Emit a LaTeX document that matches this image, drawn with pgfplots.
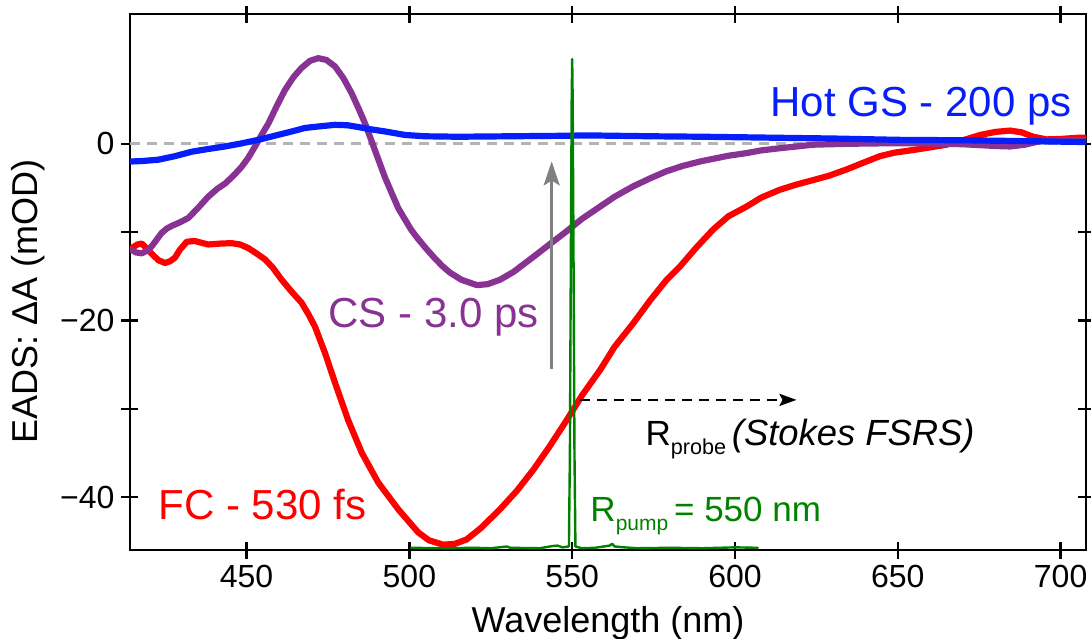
\documentclass[border=0pt]{standalone}
\usepackage{fontspec}
\setmainfont{Liberation Sans}
\usepackage{pgfplots}
\pgfplotsset{compat=1.18}
\usetikzlibrary{arrows.meta}

\definecolor{fcred}{RGB}{255,0,0}
\definecolor{cspurple}{RGB}{136,50,148}
\definecolor{gsblue}{RGB}{5,30,250}
\definecolor{pumpgreen}{RGB}{0,130,0}
\definecolor{zerogray}{RGB}{180,180,180}
\definecolor{arrowgray}{RGB}{128,128,128}

\begin{document}
\begin{tikzpicture}
\begin{axis}[
  scale only axis,
  width=478pt, height=268pt,
  xmin=414.2, xmax=707.8, ymin=-46, ymax=14.7,
  axis line style={line width=1.3pt},
  every tick/.style={black, line width=1.2pt},
  major tick length=8.5pt,
  tick align=center,
  xtick={450,500,550,600,650,700},
  xticklabels={450,500,550,600,650,700},
  ytick={-40,-30,-20,-10,0},
  yticklabels={−40,,−20,,0},
  tick label style={font=\fontsize{16}{19}\selectfont},
  xlabel={Wavelength (nm)},
  ylabel={EADS: ΔA (mOD)},
  label style={font=\fontsize{18}{21}\selectfont},
  xlabel style={at={(axis description cs:0.5,-0.105)}, anchor=north, inner sep=0pt},
  ylabel style={at={(axis description cs:-0.1067,0.463)}, anchor=center, inner sep=0pt},
  every axis plot/.append style={line join=round, line cap=round},
]

% zero reference
\addplot[zerogray, line width=1.5pt, dash pattern=on 5pt off 3.5pt, line cap=butt]
  coordinates {(414.2,0) (707.8,0)};

% FC - 530 fs
\addplot[fcred, line width=3.1pt] coordinates {
(414.7,-11.8) (416.5,-11.4) (417.8,-11.3) (419.5,-11.9) (421,-12.5) (423,-13.2)
(425,-13.5) (426.5,-13.3) (428,-12.9) (429.5,-12.0) (431.6,-11.1) (434,-11.0)
(438.2,-11.4) (442,-11.3) (445.4,-11.25) (448,-11.4) (450.5,-11.8) (453,-12.4)
(455.7,-13.1) (458,-14.0) (460.8,-15.4) (463.5,-16.6) (466.9,-18.0) (469,-19.3)
(471,-20.7) (474.1,-23.7) (477.2,-27.1) (481.2,-31.3) (485.4,-35.0) (490.5,-38.4)
(496.6,-41.4) (502.7,-44.0) (506,-44.9) (510.4,-45.4) (514,-45.3) (517.6,-44.8)
(522,-43.5) (527.8,-41.4) (533,-39.3) (538.1,-36.9) (543,-34.3) (548.3,-31.3)
(553,-28.5) (558.6,-25.6) (563,-23.0) (568.8,-20.3) (574,-17.7) (579,-15.4)
(583.1,-13.9) (588,-11.8) (593.3,-9.7) (598,-8.2) (603.6,-7.1) (608,-6.1)
(613.8,-5.2) (619,-4.6) (624.1,-4.1) (629,-3.6) (634.3,-2.9) (639,-2.2)
(644.5,-1.4) (649,-1.0) (654.8,-0.7) (660,-0.4) (665,-0.1) (670,0.4)
(675.3,1.0) (680,1.35) (684.5,1.5) (688,1.3) (691.6,0.8) (695.7,0.5)
(700,0.55) (706,0.7) (708,0.7)
};

% CS - 3.0 ps
\addplot[cspurple, line width=3.1pt] coordinates {
(414.7,-12.0) (416,-12.3) (417.8,-12.4) (419.5,-12.1) (420.9,-11.6) (422.5,-10.8)
(423.9,-10.1) (425.5,-9.6) (427,-9.3) (429.5,-8.9) (432.1,-8.4) (435,-7.3)
(438.2,-6.0) (441,-5.1) (443.4,-4.5) (446,-3.6) (448.5,-2.6) (450.5,-1.6)
(452.6,-0.3) (454.6,1.0) (456.7,2.3) (459.3,4.3) (461.8,6.1) (464.5,7.6)
(466.9,8.6) (469.5,9.4) (472,9.7) (474.5,9.5) (477.2,8.75) (479.8,7.4)
(482.3,5.7) (484.4,4.0) (486.4,2.3) (488.5,0.2) (490.5,-1.8) (492.5,-3.8)
(494.6,-5.6) (496.6,-7.3) (498.7,-8.6) (500.5,-9.7) (502.3,-10.6) (505,-11.8)
(507.4,-12.8) (510,-13.8) (512.5,-14.6) (516,-15.4) (520.7,-16.0) (524,-15.9)
(527.8,-15.4) (532,-14.5) (538.1,-12.8) (543,-11.4) (548.3,-9.9) (553,-8.5)
(558.6,-7.1) (563,-6.0) (568.8,-4.8) (574,-3.9) (579,-3.1) (584,-2.5)
(589.3,-2.0) (593.3,-1.7) (598,-1.35) (603.6,-1.05) (608,-0.75) (613.8,-0.5)
(619,-0.3) (624.1,-0.1) (634.3,0.0) (645,0.05) (655,0.05) (665,0.0)
(670,-0.05) (675.3,-0.15) (680,-0.25) (684.5,-0.3) (689,-0.1) (693.7,0.3)
(700,0.4) (708,0.4)
};

% Hot GS - 200 ps
\addplot[gsblue, line width=3.1pt] coordinates {
(414.7,-2.0) (418,-1.95) (422.9,-1.8) (428,-1.4) (433.1,-0.9) (438,-0.6)
(443.4,-0.3) (448.5,0.05) (453.6,0.45) (458.5,0.9) (463.9,1.4) (468,1.8)
(472,1.96) (477.2,2.15) (481,2.1) (484.3,1.9) (488,1.65) (492.5,1.4)
(498.7,1.0) (505,0.85) (515,0.8) (530,0.85) (545,0.9) (555,0.95)
(565,0.9) (575,0.85) (590,0.8) (610,0.7) (630,0.6) (650,0.45)
(670,0.4) (690,0.3) (708,0.2)
};

% Raman pump spectrum
\addplot[pumpgreen, line width=1.2pt] coordinates {
(500.5,-45.75) (510,-45.8) (520,-45.75) (525,-45.8) (530,-45.6) (531,-45.75)
(540,-45.8) (544,-45.55) (545.5,-45.5) (547,-45.7) (549.0,-45.6) (549.3,-35)
(549.6,-12) (549.85,5) (550.0,9.6) (550.15,5) (550.4,-12) (550.7,-35)
(551.0,-45.6) (553,-45.8) (557,-45.75) (561.5,-45.5) (562.3,-45.3) (563,-45.6)
(566,-45.7) (570,-45.8) (580,-45.75) (590,-45.8) (600,-45.7) (607,-45.75)
};

% annotations
\draw[arrowgray, line width=1.3pt, -{Stealth[length=12pt, width=8pt, inset=2.5pt]}]
  (axis cs:543.7,-25.5) -- (axis cs:543.7,-2.0);
\draw[black, line width=1.3pt, dash pattern=on 5pt off 3.5pt,
  -{Stealth[length=8.5pt, width=6pt, inset=1.5pt]}]
  (axis cs:552.4,-29.0) -- (axis cs:618.9,-29.0);

\node[anchor=base east, inner sep=0pt, text=gsblue, font=\fontsize{21}{25}\selectfont]
  at (axis cs:703.5,3.1) {Hot GS - 200 ps};
\node[anchor=base west, inner sep=0pt, text=cspurple, font=\fontsize{21}{25}\selectfont]
  at (axis cs:475.0,-20.8) {CS - 3.0 ps};
\node[anchor=base west, inner sep=0pt, text=fcred, font=\fontsize{21}{25}\selectfont]
  at (axis cs:422.8,-42.6) {FC - 530 fs};
\node[anchor=base west, inner sep=0pt, text=pumpgreen, font=\fontsize{17.5}{21}\selectfont]
  at (axis cs:555.5,-42.8) {R\raisebox{-4.3pt}{\fontsize{10.5}{12}\selectfont pump}\,= 550 nm};
\node[anchor=base west, inner sep=0pt, text=black, font=\fontsize{17.5}{21}\selectfont]
  at (axis cs:572.4,-34.2) {R\raisebox{-4.5pt}{\fontsize{10.8}{12}\selectfont probe}\,{\fontsize{18.2}{21}\selectfont\itshape(Stokes FSRS)}};
\end{axis}
\pgfresetboundingbox
\path ([shift={(-65pt,-44pt)}]current axis.south west) rectangle ([shift={(2.5pt,7pt)}]current axis.north east);
\end{tikzpicture}
\end{document}
